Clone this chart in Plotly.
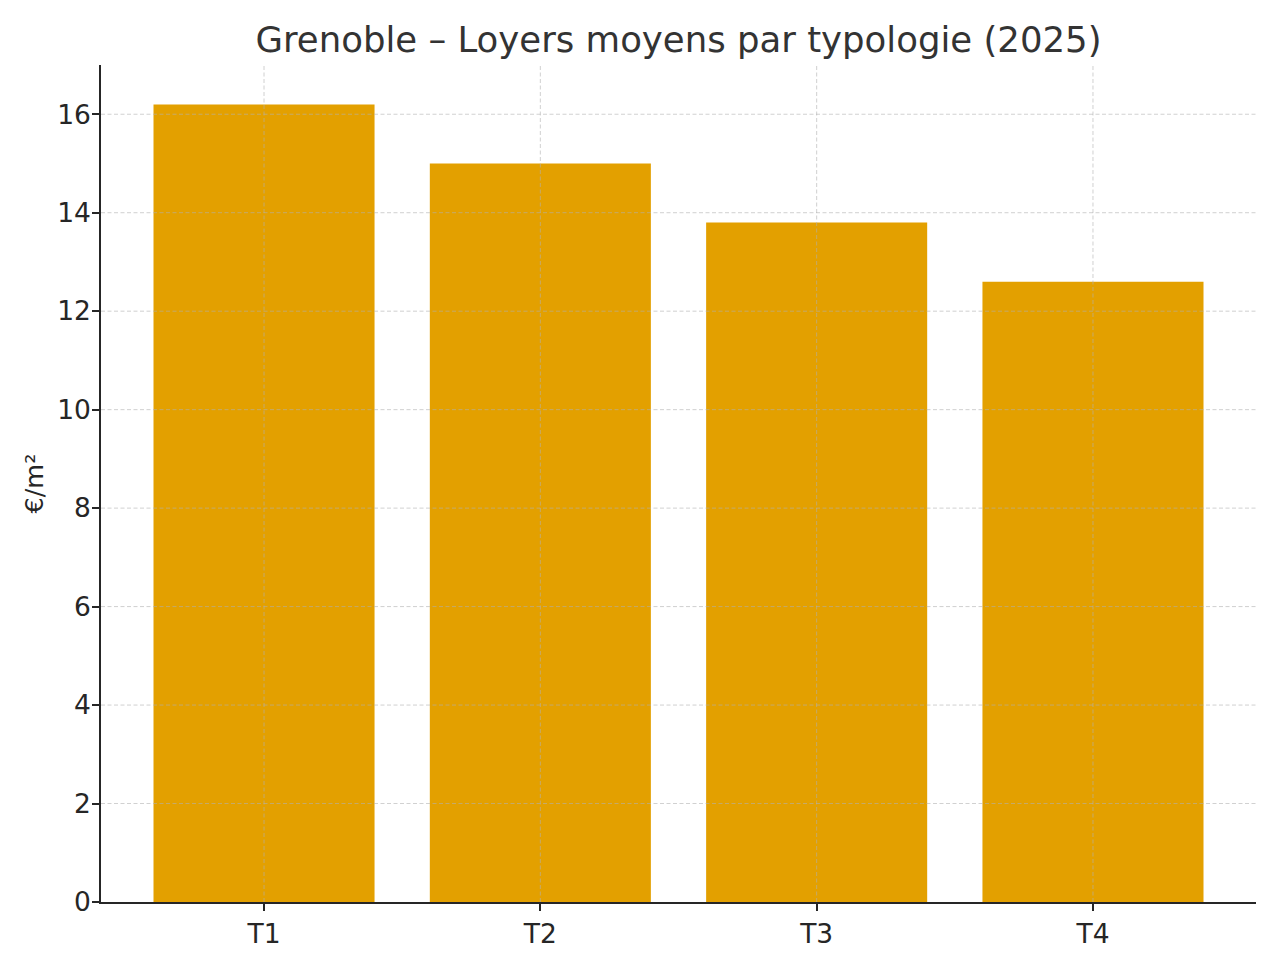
import plotly.graph_objects as go

# Loyers moyens Grenoble 2025, par typologie
typologies = ['T1', 'T2', 'T3', 'T4']
loyers = [16.2, 15.0, 13.8, 12.6]
y_ticks = [0, 2, 4, 6, 8, 10, 12, 14, 16]

bar_color = '#E3A000'
axis_color = '#262626'
grid_color = 'rgba(176,176,176,0.6)'
font_family = 'DejaVu Sans'


def main():
    fig = go.Figure()
    fig.add_trace(go.Bar(
        x=typologies,
        y=loyers,
        width=0.8,
        marker=dict(color=bar_color, line=dict(width=0)),
        showlegend=False,
    ))

    # grille en pointillés par-dessus les barres (comme matplotlib)
    shapes = []
    for t in typologies:
        shapes.append(dict(type='line', xref='x', yref='paper', x0=t, x1=t, y0=0, y1=1,
                           layer='above', line=dict(color=grid_color, width=1, dash='4px,2.5px')))
    for v in y_ticks[1:]:
        shapes.append(dict(type='line', xref='paper', yref='y', x0=0, x1=1, y0=v, y1=v,
                           layer='above', line=dict(color=grid_color, width=1, dash='4px,2.5px')))

    # la page ajoute 8px de marge (body), on compense ici
    fig.update_layout(
        width=1280, height=960,
        margin=dict(l=93, r=32, t=57, b=66),
        paper_bgcolor='white',
        plot_bgcolor='white',
        font=dict(family=font_family, size=26, color=axis_color),
        title=dict(
            text='Grenoble – Loyers moyens par typologie (2025)',
            x=(93 + 1248) / 2 / 1280, xanchor='center',
            y=1 - 32 / 960, yanchor='middle', yref='container',
            font=dict(family=font_family, size=35.5, color='#333333'),
        ),
        shapes=shapes,
        bargap=0.2,
    )
    fig.update_xaxes(
        range=[-0.59, 3.59],
        showgrid=False,
        showline=True, linecolor=axis_color, linewidth=1.5,
        ticks='outside', ticklen=7, tickwidth=1.5, tickcolor=axis_color,
        tickfont=dict(size=26.5, color=axis_color),
        zeroline=False,
    )
    fig.update_yaxes(
        range=[0, 17],
        tickvals=y_ticks,
        showgrid=False,
        showline=True, linecolor=axis_color, linewidth=1.5,
        ticks='outside', ticklen=7, tickwidth=1.5, tickcolor=axis_color,
        tickfont=dict(size=26.5, color=axis_color),
        ticklabelstandoff=-4,
        title=dict(text='€/m²', font=dict(size=25.5, color=axis_color), standoff=6),
        zeroline=False,
    )

    fig.write_html('out.html')


if __name__ == '__main__':
    main()
